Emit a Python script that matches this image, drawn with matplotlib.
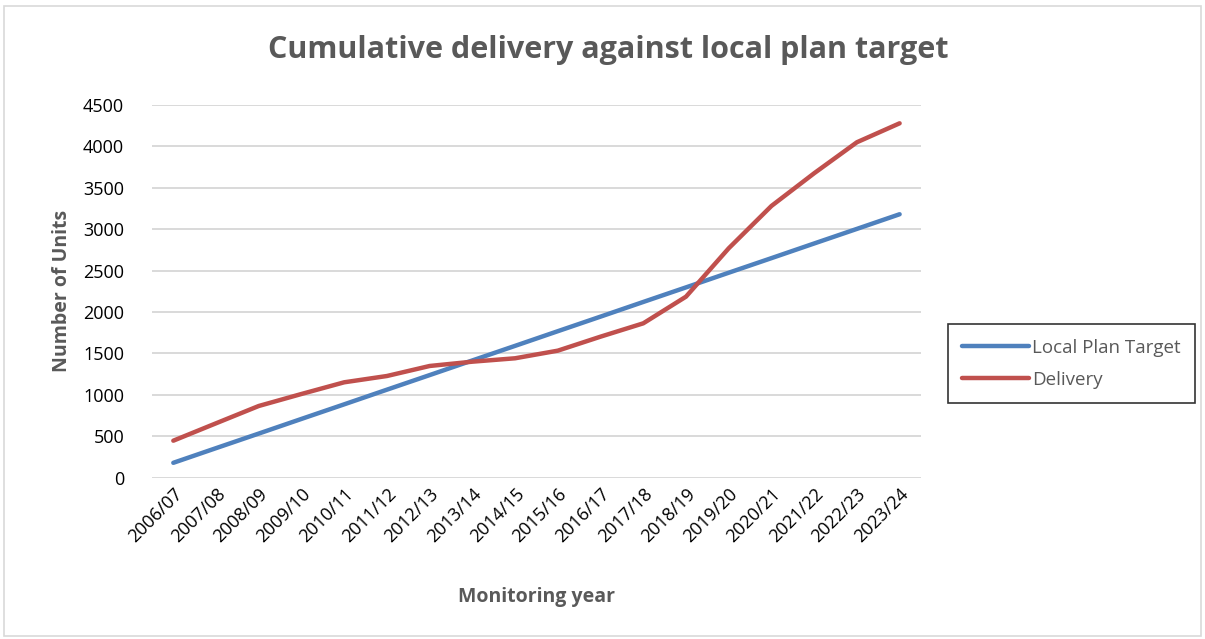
import matplotlib
matplotlib.use("Agg")
import matplotlib.pyplot as plt
from matplotlib.patches import Rectangle

years = ["2006/07", "2007/08", "2008/09", "2009/10", "2010/11", "2011/12",
         "2012/13", "2013/14", "2014/15", "2015/16", "2016/17", "2017/18",
         "2018/19", "2019/20", "2020/21", "2021/22", "2022/23", "2023/24"]
target = [180, 357, 533, 710, 886, 1063, 1239, 1416, 1592, 1769, 1945, 2122,
          2298, 2475, 2651, 2828, 3004, 3181]
delivery = [447, 657, 866, 1011, 1152, 1228, 1349, 1401, 1442, 1534, 1703, 1864,
            2186, 2770, 3281, 3676, 4050, 4279]
yticks = [0, 500, 1000, 1500, 2000, 2500, 3000, 3500, 4000, 4500]

plt.rcParams['font.family'] = ['Open Sans', 'DejaVu Sans']
fig = plt.figure(figsize=(12.05, 6.39), dpi=100)
fig.patches.append(Rectangle((0.003, 0.004), 0.994, 0.986, transform=fig.transFigure,
                             fill=False, edgecolor='#D9D9D9', linewidth=1.2))

ax = fig.add_axes([0.1261, 0.2524, 0.6382, 0.5833])
x = list(range(len(years)))
ax.plot(x, target, color='#4F81BD', linewidth=3.2, solid_capstyle='round', label='Local Plan Target')
ax.plot(x, delivery, color='#C0504D', linewidth=3.2, solid_capstyle='round', label='Delivery')

ax.set_xlim(-0.5, len(years) - 0.5)
ax.set_ylim(0, 4500)
ax.set_yticks(yticks)
ax.set_yticklabels([str(v) for v in yticks], fontsize=13, color='#000000')
ax.set_xticks(x)
ax.set_xticklabels(years, rotation=45, ha='right', rotation_mode='anchor', fontsize=13, color='#000000')
ax.tick_params(axis='both', length=0)
ax.tick_params(axis='y', pad=20)
ax.tick_params(axis='x', pad=5)
ax.grid(axis='y', color='#D9D9D9', linewidth=1.4)
ax.set_axisbelow(True)
for s in ax.spines.values():
    s.set_visible(False)

ax.set_ylabel('Number of Units', fontsize=14, fontweight='bold', color='#595959', labelpad=8)
ax.set_xlabel('Monitoring year', fontsize=14, fontweight='bold', color='#595959', labelpad=30)
fig.text(0.505, 0.922, 'Cumulative delivery against local plan target', ha='center', va='center',
         fontsize=22, fontweight='bold', color='#595959')

leg = fig.legend(loc='center', bbox_to_anchor=(0.889, 0.431), bbox_transform=fig.transFigure,
                 fontsize=13.5, frameon=True, fancybox=False, edgecolor='#000000',
                 handlelength=3.6, handletextpad=0.15, labelspacing=0.75, borderpad=0.75)
leg.get_frame().set_linewidth(1.2)
for t in leg.get_texts():
    t.set_color('#595959')

fig.savefig('out.png', dpi=100)
